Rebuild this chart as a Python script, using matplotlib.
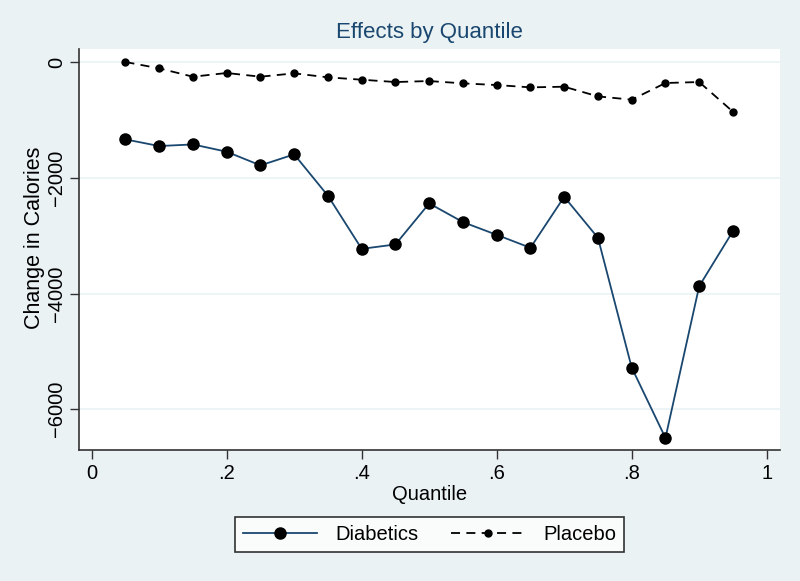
import matplotlib
matplotlib.use("Agg")
import matplotlib.pyplot as plt
from matplotlib.ticker import FuncFormatter

quantiles = [0.05, 0.10, 0.15, 0.20, 0.25, 0.30, 0.35, 0.40, 0.45, 0.50,
             0.55, 0.60, 0.65, 0.70, 0.75, 0.80, 0.85, 0.90, 0.95]
diabetics = [-1337, -1452, -1424, -1550, -1786, -1596, -2311, -3228, -3152, -2443,
             -2766, -2986, -3210, -2329, -3037, -5279, -6495, -3873, -2922]
placebo = [0, -110, -254, -190, -254, -196, -265, -306, -346, -329,
           -369, -398, -438, -427, -594, -651, -363, -346, -859]

x_ticks = [0, 0.2, 0.4, 0.6, 0.8, 1]
y_ticks = [0, -2000, -4000, -6000]

BG = "#EAF2F3"
NAVY = "#1A476F"

plt.rcParams["font.family"] = ["Liberation Sans", "DejaVu Sans"]

fig = plt.figure(figsize=(8, 5.81), dpi=100, facecolor=BG)
ax = fig.add_axes([0.09875, 0.2249, 0.87625, 0.6908])
ax.set_facecolor("white")

for t in y_ticks:
    ax.axhline(t, color=BG, linewidth=1.2, zorder=0)

ax.plot(quantiles, diabetics, color=NAVY, linewidth=1.3, marker="o",
        markersize=8, markerfacecolor="black", markeredgecolor="black",
        label="Diabetics", zorder=3)
ax.plot(quantiles, placebo, color="black", linewidth=1.3, linestyle=(0, (5, 3.5)),
        marker="o", markersize=5, markerfacecolor="black", markeredgecolor="black",
        label="Placebo", zorder=3)

ax.set_xlim(-0.0188, 1.0197)
ax.set_ylim(-6709, 225)
ax.set_xticks(x_ticks)
ax.set_yticks(y_ticks)
ax.xaxis.set_major_formatter(FuncFormatter(
    lambda v, _: "0" if v == 0 else ("1" if v == 1 else ("%.1f" % v).lstrip("0"))))
ax.yaxis.set_major_formatter(FuncFormatter(lambda v, _: "%d" % v if v == 0 else "\u2212%d" % -v))

for s in ["top", "right"]:
    ax.spines[s].set_visible(False)
for s in ["left", "bottom"]:
    ax.spines[s].set_color("#333333")
    ax.spines[s].set_linewidth(1.2)

ax.tick_params(axis="both", direction="out", length=6.5, width=1, color="#333333",
               labelsize=14.5, pad=3)
for lbl in ax.get_yticklabels():
    lbl.set_rotation(90)
    lbl.set_va("center")

ax.set_title("Effects by Quantile", fontsize=16, color=NAVY, pad=8)
ax.set_xlabel("Quantile", fontsize=14.5, labelpad=2)
ax.set_ylabel("Change in Calories", fontsize=15.5, va="center")
ax.yaxis.set_label_coords(-0.064, 0.529)

leg = fig.legend(loc="center", bbox_to_anchor=(0.537, 0.08), ncol=2,
                 frameon=True, fancybox=False, edgecolor="black", fontsize=14.5,
                 handlelength=3.7, columnspacing=1.6, handletextpad=0.9,
                 borderpad=0.4)
leg.get_frame().set_linewidth(1.2)

fig.savefig("out.png", dpi=100, facecolor=BG)
